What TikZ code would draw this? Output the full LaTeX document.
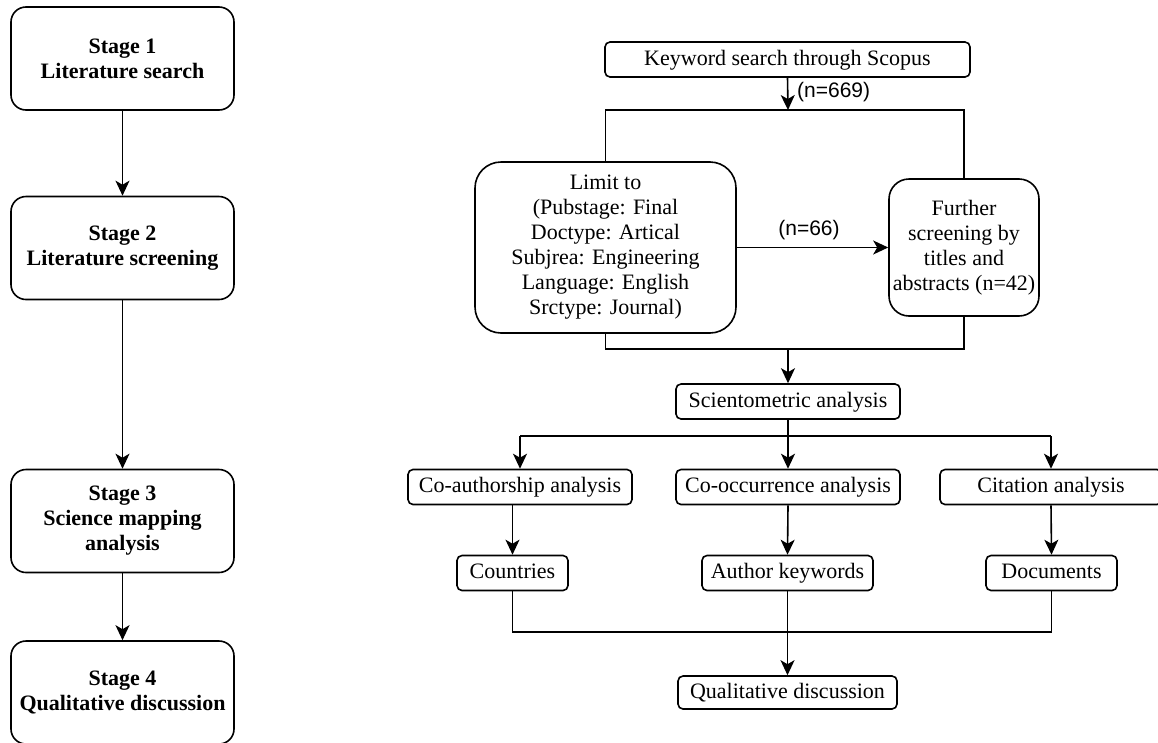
\documentclass[tikz,border=0pt]{standalone}
\usepackage{fontspec}
\setmainfont{Liberation Serif}
\newfontfamily\lsans{Liberation Sans}
\usetikzlibrary{arrows.meta}
\begin{document}
\begin{tikzpicture}[x=1pt,y=-1pt,
  box/.style={draw, line width=1.6pt, align=center, inner sep=0pt, font=\fontsize{22}{25}\selectfont},
  stagebox/.style={box, rounded corners=15pt, minimum width=223pt, minimum height=103pt, font=\fontsize{22}{25}\selectfont\bfseries},
  smallbox/.style={box, rounded corners=5pt, minimum height=35pt, text height=15pt, text depth=4pt},
  arr/.style={-{Stealth[length=15pt,width=14pt,inset=4pt]}, line width=1.6pt},
  ln/.style={line width=1.6pt},
  lbl/.style={font=\lsans\fontsize{21}{25}\selectfont, inner sep=0pt}]
\useasboundingbox (0,0) rectangle (1158,742);
\clip (0,0) rectangle (1158,742);

% left column
\node[stagebox] (s1) at (122.5,58.5) {Stage 1\\Literature search};
\node[stagebox] (s2) at (122.5,248) {Stage 2\\Literature screening};
\node[stagebox] (s3) at (122.5,521) {Stage 3\\Science mapping\\analysis};
\node[stagebox] (s4) at (122.5,692.5) {Stage 4\\Qualitative discussion};
\draw[arr] (s1) -- (s2);
\draw[arr] (s2) -- (s3);
\draw[arr] (s3) -- (s4);

% right column
\node[smallbox, minimum width=365pt] (kw) at (787.5,59.5) {Keyword search through Scopus};
\node[box, rounded corners=26pt, minimum width=261pt, minimum height=171pt] (limit) at (605.5,247.5)
  {Limit to\\(Pubstage: Final\\Doctype: Artical\\Subjrea: Engineering\\Language: English\\Srctype: Journal)};
\node[box, rounded corners=20pt, minimum width=150pt, minimum height=137pt] (further) at (964,247.5)
  {Further\\screening by\\titles and\\abstracts (n=42)};
\node[smallbox, minimum width=224pt] (sci) at (788,401.5) {Scientometric analysis};
\node[smallbox, minimum width=224pt] (coauth) at (520,487) {Co-authorship analysis};
\node[smallbox, minimum width=224pt] (coocc) at (788,487) {Co-occurrence analysis};
\node[smallbox, minimum width=222pt] (cit) at (1051,487) {Citation analysis};
\node[smallbox, minimum width=111pt] (countries) at (512.5,573) {Countries};
\node[smallbox, minimum width=171pt] (authkw) at (787.5,573) {Author keywords};
\node[smallbox, minimum width=131pt] (docs) at (1051.5,573) {Documents};
\node[smallbox, minimum width=219pt, minimum height=33pt] (qual) at (787.5,692.5) {Qualitative discussion};

\coordinate (topj) at (788,110);
\coordinate (botj) at (788,349);
\coordinate (scij) at (788,436);
\coordinate (endj) at (788,632);

% search -> limit/further
\draw[arr] (kw.south) -- (topj);
\node[lbl, anchor=west] (n669) at (797,92) {(n=669)};
\draw[ln] (limit.north) |- (topj) -| (further.north);
\draw[arr] (limit.east) -- (further.west);
\node[lbl] (n66) at (809,230) {(n=66)};
\draw[ln] (limit.south) |- (botj) -| (further.south);
\draw[arr] (botj) -- (sci.north);

% scientometric branches
\draw[ln] (sci.south) -- (scij);
\draw[ln] (coauth.north |- scij) -- (cit.north |- scij);
\draw[arr] (coauth.north |- scij) -- (coauth.north);
\draw[arr] (scij) -- (coocc.north);
\draw[arr] (cit.north |- scij) -- (cit.north);

\draw[arr] (countries.north |- coauth.south) -- (countries.north);
\draw[arr] (coocc.south) -- (authkw.north);
\draw[arr] (cit.south) -- (docs.north);

\draw[ln] (countries.south) |- (endj) -| (docs.south);
\draw[arr] (authkw.south) -- (qual.north);
\end{tikzpicture}
\end{document}
